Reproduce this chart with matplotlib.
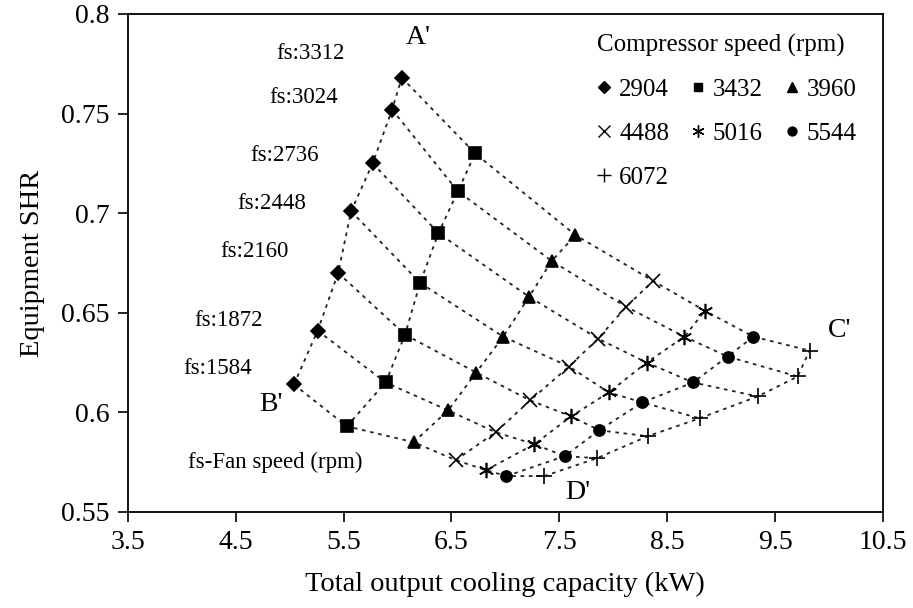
import matplotlib
matplotlib.use("Agg")
import matplotlib.pyplot as plt
from matplotlib.lines import Line2D

plt.rcParams['font.family'] = ['Liberation Serif', 'DejaVu Serif']
plt.rcParams['mathtext.fontset'] = 'stix'

# fan speeds (rpm), ascending
fan_speed = [1584, 1872, 2160, 2448, 2736, 3024, 3312]
# compressor speeds (rpm)
comp_speed = [2904, 3432, 3960, 4488, 5016, 5544, 6072]

# total output cooling capacity (kW) for each compressor speed, by fan speed
cap_2904 = [5.04, 5.26, 5.45, 5.57, 5.77, 5.95, 6.04]
cap_3432 = [5.53, 5.89, 6.07, 6.21, 6.38, 6.56, 6.72]
cap_3960 = [6.15, 6.47, 6.73, 6.98, 7.22, 7.43, 7.65]
cap_4488 = [6.54, 6.91, 7.23, 7.59, 7.86, 8.12, 8.37]
cap_5016 = [6.82, 7.27, 7.61, 7.96, 8.31, 8.66, 8.85]
cap_5544 = [7.01, 7.55, 7.87, 8.27, 8.74, 9.06, 9.30]
cap_6072 = [7.36, 7.85, 8.32, 8.80, 9.34, 9.71, 9.82]

# equipment SHR for each compressor speed, by fan speed
shr_2904 = [0.614, 0.641, 0.670, 0.701, 0.725, 0.752, 0.768]
shr_3432 = [0.593, 0.615, 0.639, 0.665, 0.690, 0.711, 0.730]
shr_3960 = [0.585, 0.601, 0.620, 0.638, 0.658, 0.676, 0.689]
shr_4488 = [0.576, 0.590, 0.606, 0.623, 0.637, 0.653, 0.666]
shr_5016 = [0.571, 0.584, 0.598, 0.610, 0.625, 0.638, 0.651]
shr_5544 = [0.568, 0.578, 0.591, 0.605, 0.615, 0.628, 0.638]
shr_6072 = [0.568, 0.577, 0.588, 0.597, 0.608, 0.618, 0.631]

caps = [cap_2904, cap_3432, cap_3960, cap_4488, cap_5016, cap_5544, cap_6072]
shrs = [shr_2904, shr_3432, shr_3960, shr_4488, shr_5016, shr_5544, shr_6072]

markers = ['D', 's', '^', 'x', (6, 2, 0), 'o', '+']
msizes = [7.5, 8, 9, 10, 11, 8, 12]

fig = plt.figure(figsize=(9.13, 6.08), dpi=100)
ax = fig.add_axes([0.140, 0.158, 0.827, 0.819])

dots = dict(color='#222222', lw=1.3, ls=(0, (2, 2.6)), zorder=1)

# lines of constant compressor speed
for c, s in zip(caps, shrs):
    ax.plot(c, s, **dots)
# lines of constant fan speed
for j in range(len(fan_speed)):
    ax.plot([c[j] for c in caps], [s[j] for s in shrs], **dots)

handles = []
for c, s, m, ms, cs in zip(caps, shrs, markers, msizes, comp_speed):
    ax.plot(c, s, ls='none', marker=m, ms=ms, color='black', mew=1.2, zorder=3)
    handles.append(Line2D([], [], ls='none', marker=m, ms=ms * 0.8, color='black',
                          mew=1.0, label=str(cs)))

# legend filled column by column, so reorder for row-wise reading
order = [0, 3, 6, 1, 4, 2, 5]
leg = ax.legend([handles[i] for i in order], [handles[i].get_label() for i in order],
                ncol=3, title='Compressor speed (rpm)', frameon=False,
                loc='upper right', bbox_to_anchor=(0.985, 0.99),
                fontsize=18, title_fontsize=18, handlelength=0.6,
                handletextpad=0.3, columnspacing=0.85, labelspacing=0.86,
                alignment='left', borderaxespad=0.2)

# fan speed labels
fs_x = [4.33, 4.43, 4.67, 4.83, 4.95, 5.13, 5.19]
fs_y = [0.622, 0.646, 0.681, 0.705, 0.729, 0.758, 0.780]
for f, x, y in zip(fan_speed, fs_x, fs_y):
    ax.text(x, y, 'fs:%d' % f, fontsize=16.5, ha='center', va='center')

ax.text(4.83, 0.604, "B'", fontsize=20, ha='center', va='center')
ax.text(6.19, 0.788, "A'", fontsize=20, ha='center', va='center')
ax.text(10.10, 0.641, "C'", fontsize=20, ha='center', va='center')
ax.text(7.67, 0.560, "D'", fontsize=20, ha='center', va='center')
ax.text(4.87, 0.575, 'fs-Fan speed (rpm)', fontsize=16.5, ha='center', va='center')

ax.set_xlim(3.5, 10.5)
ax.set_ylim(0.55, 0.8)
ax.set_xticks([3.5, 4.5, 5.5, 6.5, 7.5, 8.5, 9.5, 10.5])
ax.set_yticks([0.55, 0.6, 0.65, 0.7, 0.75, 0.8])
ax.set_yticklabels(['0.55', '0.6', '0.65', '0.7', '0.75', '0.8'])
ax.tick_params(direction='out', length=7, width=1.2, labelsize=20, pad=6)
for sp in ax.spines.values():
    sp.set_linewidth(1.3)

ax.set_xlabel('Total output cooling capacity (kW)', fontsize=20.5, labelpad=12)
ax.set_ylabel('Equipment SHR', fontsize=20.5, labelpad=12)

fig.savefig('out.png', dpi=100)
